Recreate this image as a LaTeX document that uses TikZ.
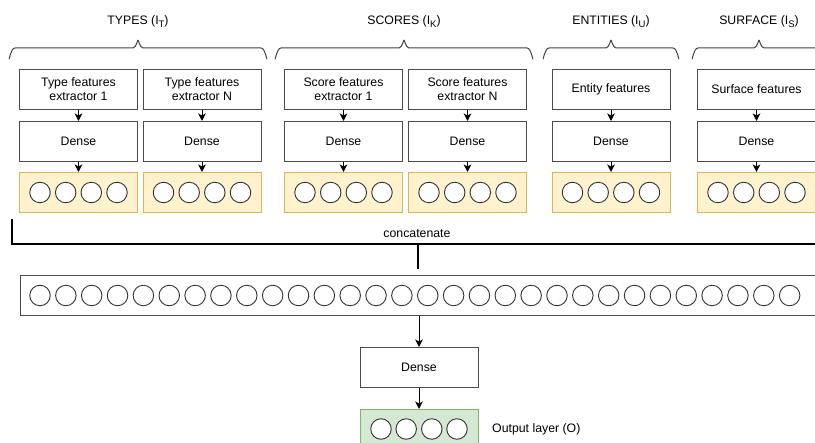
\documentclass[tikz,border=0pt]{standalone}
\usepackage{fontspec}
\setmainfont{Liberation Sans}
\usetikzlibrary{arrows.meta,calc}
\definecolor{boxgray}{HTML}{4A4A4A}
\definecolor{yfill}{HTML}{FFF2CC}
\definecolor{ydraw}{HTML}{D6B656}
\definecolor{gfill}{HTML}{D5E8D4}
\definecolor{gdraw}{HTML}{82B366}
\newcommand{\lblfont}{\fontsize{12.3}{14}\selectfont}
\newcommand{\mysub}[1]{\raisebox{-3pt}{\fontsize{9.5}{10}\selectfont #1}}
\tikzset{
  box/.style={draw=boxgray, line width=1pt, fill=white, minimum width=118pt, minimum height=40pt, inner sep=0pt, align=center, font=\lblfont},
  ybox/.style={box, fill=yfill, draw=ydraw},
  gbox/.style={box, fill=gfill, draw=gdraw},
  bigbar/.style={draw=boxgray, line width=1pt, fill=white, minimum width=800pt, minimum height=40pt, inner sep=0pt},
  neuron/.style={circle, draw=black!80, line width=0.9pt, fill=white, minimum size=20.5pt, inner sep=0pt},
  arr/.style={-{Stealth[length=7.5pt,width=7.5pt,inset=2pt]}, line width=1pt, draw=black},
  bracestyle/.style={draw=black!75, line width=1pt},
  concat/.style={draw=black, line width=2pt},
  lbl/.style={font=\lblfont, inner sep=0pt}
}
\begin{document}
\begin{tikzpicture}[x=1pt,y=-1pt]
\useasboundingbox (0,0) rectangle (815,443);
\clip (0,0) rectangle (815,443);
% braces
\foreach \a/\t/\b in {9/138/267, 275/404/533, 543/611/679, 692/759/826}{
  \draw[bracestyle] (\a,58) to[out=-90,in=180] ({\a+6},48) -- ({\t-5},48) to[out=0,in=90] (\t,41)
    to[out=90,in=180] ({\t+5},48) -- ({\b-6},48) to[out=0,in=-90] (\b,58);
}
\node[lbl] (lt) at (138,22) {TYPES (I\mysub{T})};
\node[lbl] (lk) at (404,22) {SCORES (I\mysub{K})};
\node[lbl] (lu) at (611,22) {ENTITIES (I\mysub{U})};
\node[lbl] (ls) at (759,22) {SURFACE (I\mysub{S})};
% columns
\foreach \i/\x/\txt in {1/78.5/{Type features\\extractor 1}, 2/202/{Type features\\extractor N}, 3/343.5/{Score features\\extractor 1}, 4/467.5/{Score features\\extractor N}, 5/611/{Entity features}, 6/756.5/{Surface features}}{
  \node[box] (t\i) at (\x,89.5) {\txt};
  \node[box] (d\i) at (\x,141.5) {Dense};
  \node[ybox] (y\i) at (\x,192.5) {};
  \foreach \k/\o in {1/-38.5, 2/-12.8, 3/12.8, 4/38.5}{
    \node[neuron] (y\i c\k) at ($(y\i.center)+(\o,0)$) {};
  }
  \draw[arr] (t\i.south) -- (d\i.north);
  \draw[arr] (d\i.south) -- (y\i.north);
}
% concatenate
\coordinate (cl) at (12,219);
\coordinate (cc) at (418,244);
\coordinate (cs) at (418,269);
\draw[concat] (cl) |- (cc) -- (820,244);
\draw[concat] (cc) -- (cs);
\node[lbl] (ctext) at (417,233.5) {concatenate};
% big bar
\node[bigbar, anchor=north west] (bar) at (19.5,275) {};
\foreach \k in {0,...,29}{
  \node[neuron] (b\k) at ({40+25.85*\k},295.5) {};
}
% output
\node[box] (d7) at (419,367.5) {Dense};
\node[gbox, anchor=north] (o) at (419,409) {};
\foreach \k/\o in {1/-38, 2/-12.8, 3/12.8, 4/38}{
  \node[neuron] (o\k) at ($(o.north)+(\o,20)$) {};
}
\node[lbl, anchor=west] (olab) at (492,429) {Output layer (O)};
\draw[arr] (bar.south -| d7.north) -- (d7.north);
\draw[arr] (d7.south) -- (o.north);
\end{tikzpicture}
\end{document}
